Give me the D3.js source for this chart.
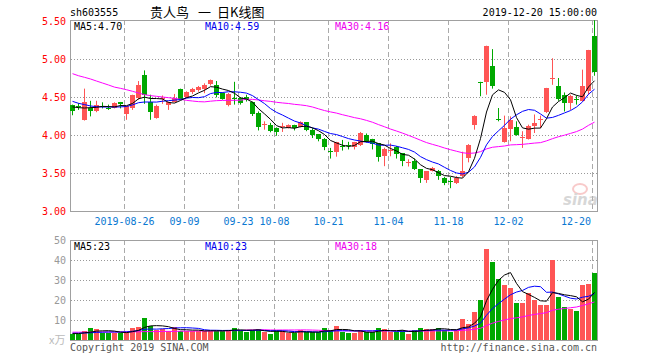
<!DOCTYPE html>
<meta charset="utf-8">
<script src="https://d3js.org/d3.v7.min.js"></script>
<style>
  body { margin: 0; background: #fff; }
  text { font-family: "DejaVu Sans Mono", monospace; font-size: 10px; }
</style>
<div id="kline"></div>
<script>

// trading days shown on the chart
var dates = [
  "2019-08-13","2019-08-14","2019-08-15","2019-08-16","2019-08-19","2019-08-20","2019-08-21","2019-08-22","2019-08-23",
  "2019-08-26","2019-08-27","2019-08-28","2019-08-29","2019-08-30",
  "2019-09-02","2019-09-03","2019-09-04","2019-09-05","2019-09-06","2019-09-09","2019-09-10","2019-09-11","2019-09-12",
  "2019-09-16","2019-09-17","2019-09-18","2019-09-19","2019-09-20","2019-09-23","2019-09-24","2019-09-25","2019-09-26","2019-09-27","2019-09-30",
  "2019-10-08","2019-10-09","2019-10-10","2019-10-11","2019-10-14","2019-10-15","2019-10-16","2019-10-17","2019-10-18",
  "2019-10-21","2019-10-22","2019-10-23","2019-10-24","2019-10-25","2019-10-28","2019-10-29","2019-10-30","2019-10-31",
  "2019-11-01","2019-11-04","2019-11-05","2019-11-06","2019-11-07","2019-11-08","2019-11-11","2019-11-12","2019-11-13","2019-11-14","2019-11-15",
  "2019-11-18","2019-11-19","2019-11-20","2019-11-21","2019-11-22","2019-11-25","2019-11-26","2019-11-27","2019-11-28","2019-11-29",
  "2019-12-02","2019-12-03","2019-12-04","2019-12-05","2019-12-06","2019-12-09","2019-12-10","2019-12-11","2019-12-12","2019-12-13",
  "2019-12-16","2019-12-17","2019-12-18","2019-12-19","2019-12-20"
];

var opens = [4.39,4.38,4.20,4.355,4.31,4.38,4.36,4.36,4.43,4.27,4.35,4.49,4.79,4.44,4.22,4.48,4.39,4.44,4.61,4.495,
  4.565,4.59,4.61,4.67,4.66,4.55,4.40,4.49,4.49,4.495,4.43,4.29,4.13,4.135,4.09,4.11,4.10,4.13,4.105,4.17,
  4.065,4.01,3.95,3.785,3.77,3.86,3.87,3.845,3.87,4.00,3.943,3.89,3.724,3.80,3.846,3.76,3.64,3.66,3.55,3.40,
  3.52,3.52,3.43,3.395,3.37,3.45,3.70,4.136,4.70,4.706,4.91,4.21,3.903,4.08,4.105,3.97,3.947,4.114,4.20,4.30,
  4.74,4.65,4.52,4.42,4.475,4.456,4.575,5.30];
var highs = [4.40,4.42,4.61,4.45,4.45,4.43,4.40,4.43,4.435,4.38,4.53,4.71,4.85,4.53,4.40,4.52,4.44,4.54,4.61,4.575,
  4.62,4.645,4.68,4.73,4.71,4.56,4.553,4.70,4.50,4.53,4.44,4.31,4.18,4.16,4.10,4.16,4.14,4.135,4.18,4.17,
  4.09,4.01,3.96,3.83,3.91,3.935,3.91,3.91,4.04,4.02,3.95,3.89,3.833,3.89,3.855,3.76,3.68,3.69,3.55,3.52,
  3.58,3.54,3.45,3.45,3.46,3.78,3.88,4.26,4.70,5.175,5.13,4.355,4.255,4.245,4.18,4.05,4.136,4.27,4.255,4.62,
  5.01,4.75,4.56,4.53,4.52,4.86,5.12,5.51];
var lows = [4.26,4.33,4.19,4.245,4.30,4.35,4.33,4.35,4.35,4.20,4.33,4.465,4.41,4.20,4.215,4.41,4.33,4.43,4.465,4.485,
  4.54,4.57,4.55,4.65,4.495,4.465,4.377,4.40,4.40,4.44,4.25,4.06,4.07,4.035,3.99,4.04,4.085,4.06,4.10,4.05,
  3.96,3.917,3.80,3.69,3.715,3.795,3.81,3.81,3.855,3.90,3.81,3.65,3.59,3.72,3.69,3.59,3.585,3.54,3.37,3.37,
  3.52,3.41,3.34,3.30,3.355,3.44,3.64,4.07,4.51,4.53,4.61,4.18,3.90,3.917,3.99,3.83,3.94,4.026,4.09,4.29,
  4.66,4.45,4.31,4.33,4.40,4.44,4.53,4.78];
var closes = [4.31,4.37,4.44,4.31,4.39,4.375,4.355,4.42,4.40,4.38,4.52,4.66,4.53,4.31,4.38,4.49,4.43,4.49,4.48,4.565,
  4.60,4.635,4.66,4.72,4.53,4.475,4.54,4.48,4.42,4.45,4.27,4.11,4.14,4.06,4.04,4.115,4.135,4.09,4.17,4.07,
  4.005,3.947,3.84,3.78,3.905,3.855,3.865,3.905,4.03,3.92,3.877,3.70,3.81,3.805,3.76,3.65,3.645,3.56,3.43,3.52,
  3.56,3.45,3.37,3.39,3.43,3.52,3.873,4.254,4.69,5.175,4.65,4.20,4.09,4.20,4.004,3.975,4.114,4.158,4.205,4.62,
  4.745,4.474,4.41,4.51,4.47,4.65,5.12,4.82];

// volume, in 10k lots
var volumes = [3.0,3.0,4.7,6.2,5.3,3.7,3.4,3.7,3.4,4.2,6.1,6.6,11.2,7.2,4.8,5.5,4.6,6.6,4.3,4.6,
  4.6,4.6,4.6,4.6,4.6,4.6,5.0,6.2,4.8,3.9,4.8,5.7,3.9,3.2,4.4,4.4,3.5,3.4,4.9,3.9,
  3.9,3.9,6.2,5.1,7.0,4.2,3.3,3.3,5.0,3.8,3.8,6.0,5.5,4.2,3.8,5.0,3.0,5.0,6.0,5.5,
  5.5,6.0,5.0,4.2,5.0,10.5,8.0,14.2,20,45.5,39,30.5,27.5,26,18.5,18.5,23.5,20,17.5,17.5,
  40,21.5,16.5,15.5,14.5,27.5,28,33.5];

// moving average values before a full window exists
var priceMa5Lead = [4.37,4.36,4.355,4.36];
var priceMa10Lead = [4.443,4.417,4.40,4.382,4.373,4.368,4.368,4.368,4.37];
var priceMa30Lead = [4.807,4.78,4.759,4.737,4.71,4.684,4.658,4.63,4.614,4.596,4.575,4.553,4.53,4.518,4.509,
  4.50,4.491,4.482,4.47,4.456,4.447,4.439,4.436,4.445,4.452,4.455,4.456,4.456,4.458];
var volMa5Lead = [3.2,3.2,3.6,3.9];
var volMa10Lead = [3.4,3.4,3.5,3.6,3.8,3.9,4.0,4.0,4.0];
var volMa30Lead = [3.9,3.9,3.9,3.9,4.0,4.0,4.0,4.0,4.0,4.1,4.1,4.1,4.2,4.2,4.2,4.3,4.3,4.3,4.4,4.4,
  4.4,4.5,4.5,4.5,4.6,4.6,4.6,4.7,4.7];

var priceTicks = [3.00, 3.50, 4.00, 4.50, 5.00, 5.50];
var volTicks = [10, 20, 30, 40, 50];
var dateTicks = ["2019-08-26","2019-09-09","2019-09-23","2019-10-08","2019-10-21","2019-11-04","2019-11-18","2019-12-02","2019-12-20"];
var titleParts = ["贵人鸟", "一", "日K线图"];
var priceMaLabels = ["MA5:4.70", "MA10:4.59", "MA30:4.16"];
var volMaLabels = ["MA5:23", "MA10:23", "MA30:18"];
var maColors = ["#000000", "#0000ff", "#ff00ff"];
var maTextColors = ["#000000", "#0000ee", "#ee00ee"];

var red = "#ff5555", green = "#00a800";

var svg = d3.select("#kline")
  .append("svg")
    .attr("width", 660)
    .attr("height", 360);

// scales
var x = d3.scaleBand()
  .domain(dates)
  .range([70, 597])
  .paddingInner(1 / 6)
  .paddingOuter(0);
var yPrice = d3.scaleLinear().domain([3, 5.5]).range([211, 21]);
var yVol = d3.scaleLinear().domain([0, 50]).range([340, 240]);

function cx(i) { return x(dates[i]) + 2.5; }
function movingAvg(values, n, lead) {
  return values.map(function(v, i) {
    if (i < n - 1) return lead[i];
    return d3.mean(values.slice(i - n + 1, i + 1));
  });
}

// header
svg.append("text").attr("x", 70).attr("y", 16).text("sh603555");
var titleX = [150, 198, 217];
svg.append("g")
  .selectAll("text")
  .data(titleParts)
  .enter().append("text")
    .attr("x", function(d, i) { return titleX[i]; })
    .attr("y", 17)
    .style("font-family", "'Noto Sans CJK SC', sans-serif")
    .style("font-size", "13px")
    .text(function(d) { return d; });
svg.append("text").attr("x", 597).attr("y", 16).attr("text-anchor", "end").text("2019-12-20 15:00:00");

// grids
function drawPanel(top, bottom, hTicks, yScale) {
  var g = svg.append("g");
  g.selectAll("hline")
    .data(hTicks)
    .enter().append("line")
      .attr("x1", 71).attr("x2", 597)
      .attr("y1", function(d) { return Math.round(yScale(d)) + 0.5; })
      .attr("y2", function(d) { return Math.round(yScale(d)) + 0.5; })
      .attr("stroke", "#999")
      .attr("stroke-dasharray", "1,2");
  g.selectAll("vline")
    .data(dateTicks)
    .enter().append("line")
      .attr("x1", function(d) { return x(d) + 0.5; })
      .attr("x2", function(d) { return x(d) + 0.5; })
      .attr("y1", top).attr("y2", bottom)
      .attr("stroke", "#aaa")
      .attr("stroke-dasharray", "5,3");
  g.append("rect")
    .attr("x", 70.5).attr("y", top + 0.5)
    .attr("width", 527).attr("height", bottom - top)
    .attr("fill", "none")
    .attr("stroke", "#a0a0a0");
}
drawPanel(20, 211, [3.5, 4.0, 4.5, 5.0], yPrice);
drawPanel(240, 340, [10, 20, 30, 40], yVol);

// price labels
svg.append("g")
  .selectAll("text")
  .data(priceTicks)
  .enter().append("text")
    .attr("x", 66)
    .attr("y", function(d) { return yPrice(d) + 4; })
    .attr("text-anchor", "end")
    .style("fill", "#ff0000")
    .text(function(d) { return d.toFixed(2); });

// volume labels
svg.append("g")
  .selectAll("text")
  .data(volTicks)
  .enter().append("text")
    .attr("x", 66)
    .attr("y", function(d) { return yVol(d) + 4; })
    .attr("text-anchor", "end")
    .style("fill", "#999")
    .text(function(d) { return d; });
svg.append("text")
  .attr("x", 49).attr("y", 344)
  .style("fill", "#bbb")
  .style("font-family", "'Noto Sans CJK SC', sans-serif")
  .style("font-size", "11px")
  .text("x万");

// date labels
svg.append("g")
  .selectAll("text")
  .data(dateTicks)
  .enter().append("text")
    .attr("x", function(d, i) {
      var w = (i === 0 ? 10 : 5) * 6.02;
      return Math.min(x(d) + 0.5, 591 - w / 2);
    })
    .attr("y", 225)
    .attr("text-anchor", "middle")
    .style("fill", "#0a78d2")
    .text(function(d, i) { return i === 0 ? d : d.slice(5); });

// candles
var idx = d3.range(dates.length);
var candles = svg.append("g");
candles.selectAll("wick")
  .data(idx)
  .enter().append("line")
    .attr("x1", cx).attr("x2", cx)
    .attr("y1", function(i) { return yPrice(highs[i]); })
    .attr("y2", function(i) { return yPrice(lows[i]); })
    .attr("stroke", function(i) { return closes[i] >= opens[i] ? red : green; })
    .attr("stroke-width", 1);
candles.selectAll("body")
  .data(idx)
  .enter().append("rect")
    .attr("x", function(i) { return x(dates[i]); })
    .attr("width", x.bandwidth())
    .attr("y", function(i) { return Math.round(yPrice(Math.max(opens[i], closes[i]))); })
    .attr("height", function(i) {
      return Math.max(1, Math.round(Math.abs(yPrice(opens[i]) - yPrice(closes[i]))));
    })
    .attr("fill", function(i) { return closes[i] >= opens[i] ? red : green; });

// volume bars
svg.append("g")
  .selectAll("rect")
  .data(idx)
  .enter().append("rect")
    .attr("x", function(i) { return x(dates[i]); })
    .attr("width", x.bandwidth())
    .attr("y", function(i) { return Math.round(yVol(volumes[i])); })
    .attr("height", function(i) { return 340 - Math.round(yVol(volumes[i])); })
    .attr("fill", function(i) { return closes[i] >= opens[i] ? red : green; });

// moving averages
var priceMas = [
  movingAvg(closes, 5, priceMa5Lead),
  movingAvg(closes, 10, priceMa10Lead),
  movingAvg(closes, 30, priceMa30Lead)
];
var volMas = [
  movingAvg(volumes, 5, volMa5Lead),
  movingAvg(volumes, 10, volMa10Lead),
  movingAvg(volumes, 30, volMa30Lead)
];
var priceLine = d3.line().x(function(d, i) { return cx(i); }).y(function(d) { return yPrice(d); });
var volLine = d3.line().x(function(d, i) { return cx(i); }).y(function(d) { return yVol(d); });

[2, 1, 0].forEach(function(k) {
  svg.append("path")
    .attr("d", priceLine(priceMas[k]))
    .attr("fill", "none")
    .attr("stroke", maColors[k])
    .attr("stroke-width", 1);
  svg.append("path")
    .attr("d", volLine(volMas[k]))
    .attr("fill", "none")
    .attr("stroke", maColors[k])
    .attr("stroke-width", 1);
});

// MA legends
var legendX = [74, 205, 335];
svg.append("g")
  .selectAll("text")
  .data(priceMaLabels)
  .enter().append("text")
    .attr("x", function(d, i) { return legendX[i]; })
    .attr("y", 30)
    .style("fill", function(d, i) { return maTextColors[i]; })
    .text(function(d) { return d; });
svg.append("g")
  .selectAll("text")
  .data(volMaLabels)
  .enter().append("text")
    .attr("x", function(d, i) { return legendX[i]; })
    .attr("y", 250)
    .style("fill", function(d, i) { return maTextColors[i]; })
    .text(function(d) { return d; });

// sina watermark
var wm = svg.append("g").attr("opacity", 0.55);
wm.append("ellipse").attr("cx", 580).attr("cy", 189).attr("rx", 7).attr("ry", 5)
  .attr("fill", "none").attr("stroke", "#f4a0a0").attr("stroke-width", 2);
wm.append("text")
  .attr("x", 563).attr("y", 205)
  .style("font-family", "'DejaVu Sans', sans-serif")
  .style("font-size", "15px")
  .style("font-style", "italic")
  .style("font-weight", "bold")
  .style("fill", "#b8b8b8")
  .text("sina");

// footer
svg.append("text").attr("x", 70).attr("y", 351).style("fill", "#555").text("Copyright 2019 SINA.COM");
svg.append("text").attr("x", 597).attr("y", 351).attr("text-anchor", "end").style("fill", "#555").text("http://finance.sina.com.cn");

</script>
